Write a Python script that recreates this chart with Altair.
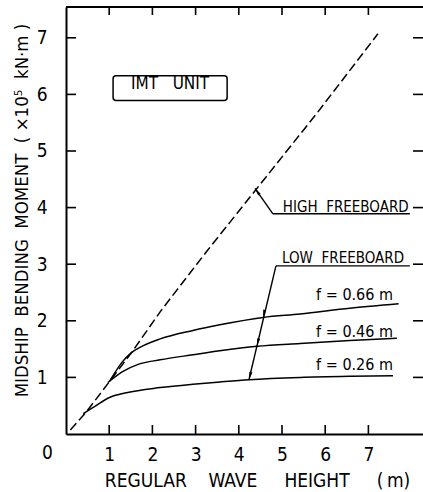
import altair as alt
import pandas as pd

FONT = "DejaVu Sans Condensed, DejaVu Sans, sans-serif"

# ---- data -------------------------------------------------------------
# high freeboard (dashed)
high_x = [0.10, 0.45, 1.00, 1.50, 2.20, 3.25, 4.40, 5.80, 7.22]
high_y = [0.07, 0.37, 0.92, 1.42, 2.18, 3.22, 4.32, 5.66, 7.07]

# low freeboard, f = 0.66 m
f66_x = [1.00, 1.30, 1.50, 1.71, 2.18, 2.94, 3.56, 4.56, 5.42, 6.57, 7.70]
f66_y = [0.92, 1.27, 1.43, 1.53, 1.68, 1.83, 1.93, 2.06, 2.12, 2.22, 2.30]

# low freeboard, f = 0.46 m
f46_x = [0.97, 1.33, 1.67, 2.18, 2.94, 3.56, 4.42, 5.42, 6.57, 7.66]
f46_y = [0.91, 1.11, 1.23, 1.31, 1.40, 1.47, 1.55, 1.60, 1.65, 1.69]

# low freeboard, f = 0.26 m
f26_x = [0.40, 0.63, 1.02, 1.40, 2.18, 2.94, 3.56, 4.24, 5.42, 6.57, 7.57]
f26_y = [0.36, 0.47, 0.65, 0.73, 0.82, 0.88, 0.92, 0.96, 1.00, 1.02, 1.03]

tick_values = [1, 2, 3, 4, 5, 6, 7]

# annotation texts (position in data units) and font sizes
label_text = ["IMT \u00a0\u00a0UNIT", "HIGH \u00a0FREEBOARD", "LOW \u00a0FREEBOARD",
              "f = 0.66 m", "f = 0.46 m", "f = 0.26 m"]
label_x = [2.41, 5.02, 5.00, 7.57, 7.57, 7.57]
label_y = [6.10, 3.93, 3.02, 2.36, 1.72, 1.13]
label_align = ["center", "left", "left", "right", "right", "right"]
label_size = [17, 15, 15, 16, 16, 16]

# leader lines (underline + pointer)
lead_x = [4.79, 4.79, 4.86, 4.86]
lead_y = [3.89, 3.89, 2.97, 2.97]
lead_x2 = [7.96, 4.375, 7.96, 4.236]
lead_y2 = [3.89, 4.34, 2.97, 0.963]

# arrow heads: tip position and direction (degrees clockwise from up)
arrow_x = [4.375, 4.56, 4.42, 4.24]
arrow_y = [4.34, 2.06, 1.55, 0.96]
arrow_dir = [325, 193, 193, 193]

# ---- scales / axes ----------------------------------------------------
W, H = 357, 427
XS = alt.Scale(domain=[0, 8.264], nice=False, zero=False)
YS = alt.Scale(domain=[0, 7.544], nice=False, zero=False)

X_AX = alt.Axis(values=tick_values, format="d", ticks=False, grid=False,
                domainColor="black", domainWidth=2,
                labelFont=FONT, labelFontSize=19, labelColor="black",
                labelPadding=11, labelBaseline="top",
                title="REGULAR \u00a0\u00a0\u00a0WAVE \u00a0\u00a0\u00a0\u00a0HEIGHT \u00a0\u00a0\u00a0\u00a0(\u2009m)",
                titleFont=FONT, titleFontSize=19, titleFontWeight="normal",
                titleColor="black", titleX=191, titleY=52,
                titleAlign="center", titleBaseline="alphabetic")
Y_AX = alt.Axis(values=tick_values, format="d", ticks=False, grid=False,
                domainColor="black", domainWidth=2,
                labelFont=FONT, labelFontSize=19, labelColor="black",
                labelPadding=19, labelBaseline="middle",
                title="MIDSHIP \u00a0BENDING \u00a0MOMENT \u00a0( \u00d710\u2075 \u00a0kN\u00b7m )",
                titleFont=FONT, titleFontSize=18.5, titleFontWeight="normal",
                titleColor="black", titleAngle=270, titleX=-45, titleY=203,
                titleAlign="center", titleBaseline="middle")


def X(field):
    return alt.X(field, type="quantitative", scale=XS, axis=X_AX)


def Y(field):
    return alt.Y(field, type="quantitative", scale=YS, axis=Y_AX)


# ---- tables -----------------------------------------------------------
high_df = pd.DataFrame({"x": high_x, "y": high_y})
low_df = pd.concat([
    pd.DataFrame({"x": f66_x, "y": f66_y, "f": "0.66"}),
    pd.DataFrame({"x": f46_x, "y": f46_y, "f": "0.46"}),
    pd.DataFrame({"x": f26_x, "y": f26_y, "f": "0.26"}),
])
ticks_df = pd.DataFrame({"v": tick_values})
labels_df = pd.DataFrame({"x": label_x, "y": label_y, "t": label_text,
                          "a": label_align, "s": label_size})
lead_df = pd.DataFrame({"x": lead_x, "y": lead_y, "x2": lead_x2, "y2": lead_y2})
arrow_df = pd.DataFrame({"x": arrow_x, "y": arrow_y, "d": arrow_dir})

# ---- layers -----------------------------------------------------------
high_line = alt.Chart(high_df).mark_line(
    color="black", strokeWidth=1.5, strokeDash=[9, 4]
).encode(x=X("x"), y=Y("y"))

low_lines = alt.Chart(low_df).mark_line(
    color="black", strokeWidth=1.5, interpolate="monotone"
).encode(x=X("x"), y=Y("y"), detail="f:N")

# inward tick marks on all four sides
left_ticks = alt.Chart(ticks_df).mark_rule(color="black", strokeWidth=1.6).encode(
    y=Y("v"), x=alt.value(0), x2=alt.value(10))
right_ticks = alt.Chart(ticks_df).mark_rule(color="black", strokeWidth=1.6).encode(
    y=Y("v"), x=alt.value(W - 10), x2=alt.value(W))
bottom_ticks = alt.Chart(ticks_df).mark_rule(color="black", strokeWidth=1.6).encode(
    x=X("v"), y=alt.value(H), y2=alt.value(H - 9))
top_ticks = alt.Chart(ticks_df).mark_rule(color="black", strokeWidth=1.6).encode(
    x=X("v"), y=alt.value(0), y2=alt.value(8))
top_frame = alt.Chart(ticks_df).mark_rule(color="black", strokeWidth=2).encode(
    x=alt.value(0), x2=alt.value(W), y=alt.value(0))

leaders = alt.Chart(lead_df).mark_rule(color="black", strokeWidth=1.4).encode(
    x=X("x"), y=Y("y"), x2="x2", y2="y2")

arrows = alt.Chart(arrow_df).mark_point(
    shape="M0,0L0.4,2L-0.4,2Z", filled=True, color="black", opacity=1, size=60
).encode(x=X("x"), y=Y("y"), angle=alt.Angle("d:Q", scale=None))


def text_layer(align):
    return alt.Chart(labels_df).transform_filter(
        alt.datum.a == align
    ).mark_text(
        font=FONT, color="black", baseline="alphabetic", align=align
    ).encode(x=X("x"), y=Y("y"), text="t:N",
             size=alt.Size("s:Q", scale=None, legend=None))


origin = alt.Chart(pd.DataFrame({"x": [-0.43], "y": [-0.45], "t": ["0"]})).mark_text(
    font=FONT, fontSize=19, color="black", baseline="alphabetic", align="center"
).encode(x=X("x"), y=Y("y"), text="t:N")

box_df = pd.DataFrame({"x": [1.09], "x2": [3.73], "y": [5.89], "y2": [6.33]})
box = alt.Chart(box_df).mark_rect(
    fill="white", fillOpacity=0, stroke="black", strokeWidth=1.5, cornerRadius=3
).encode(x=X("x"), x2="x2", y=Y("y"), y2="y2")

chart = alt.layer(
    box, high_line, low_lines, left_ticks, right_ticks, bottom_ticks, top_ticks,
    top_frame, leaders, arrows,
    text_layer("center"), text_layer("left"), text_layer("right"), origin
).properties(
    width=W, height=H,
    padding={"left": 66, "top": 7, "right": 0, "bottom": 58},
    autosize=alt.AutoSizeParams(type="none"),
    background="white",
).configure_view(stroke=None)

chart.save("out.html", embed_options={"renderer": "svg", "actions": False})
